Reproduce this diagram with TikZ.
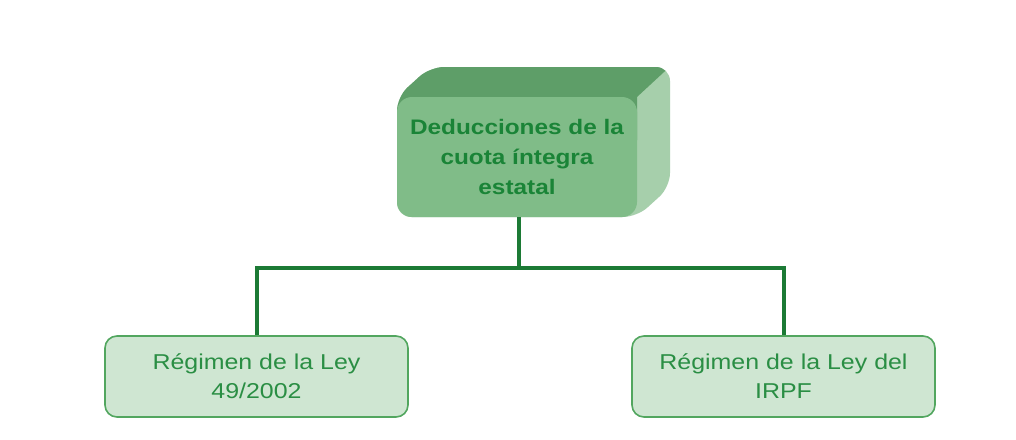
\documentclass[tikz,border=0pt]{standalone}
\usepackage{fontspec}
\setmainfont{Liberation Sans}[FakeStretch=1.16]
\definecolor{frontc}{HTML}{80BC88}
\definecolor{topc}{HTML}{5E9E68}
\definecolor{sidec}{HTML}{A6CFAB}
\definecolor{maintxt}{HTML}{1A8437}
\definecolor{boxfill}{HTML}{CFE6D2}
\definecolor{boxline}{HTML}{52A65F}
\definecolor{boxtxt}{HTML}{2A8E44}
\definecolor{linec}{HTML}{1C7A35}
\tikzset{
  leaf/.style={draw=boxline, line width=1.6pt, fill=boxfill, rounded corners=12pt,
    minimum width=303pt, minimum height=81pt, align=center, text=boxtxt,
    font=\fontsize{21.5}{29}\selectfont},
  conn/.style={draw=linec, line width=4pt},
}
\begin{document}
\begin{tikzpicture}[x=1pt,y=-1pt]
\useasboundingbox (0,0) rectangle (1016,439);
\fill[white] (0,0) rectangle (1016,439);
% 3D main box: top and side faces, clipped to a rounded silhouette
\begin{scope}
  \clip[rounded corners=14pt] (397,217) -- (397,97) -- (430,67) -- (670,67) -- (670,187) -- (637,217) -- cycle;
  \fill[sidec] (390,60) rectangle (680,225);
  \fill[topc] (390,140) -- (390,97) -- (430,60) -- (677,60) -- (637,97) -- (637,140) -- cycle;
\end{scope}
\node[fill=frontc, rounded corners=15pt, minimum width=240pt, minimum height=120pt,
  align=center, text=maintxt, font=\bfseries\fontsize{21}{30}\selectfont]
  (main) at (517,157) {Deducciones de la\\cuota íntegra\\estatal};
% leaves
\node[leaf] (left) at (256.5,376.5) {Régimen de la Ley\\49/2002};
\node[leaf] (right) at (783.5,376.5) {Régimen de la Ley del\\IRPF};
% connectors
\coordinate (j) at (519,268);
\draw[conn] (main.south -| j) -- (j);
\draw[conn] (left.north) -- (left.north |- j) -- (right.north |- j) -- (right.north);
\end{tikzpicture}
\end{document}
